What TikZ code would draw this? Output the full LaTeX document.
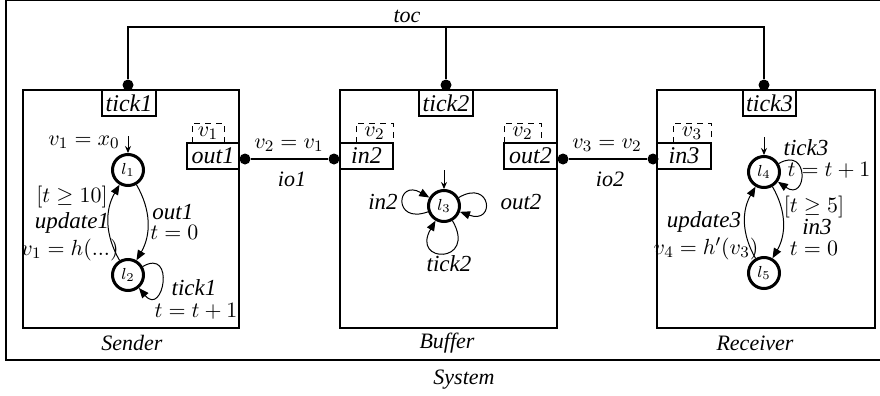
\documentclass[tikz,border=0pt]{standalone}
\usepackage{fontspec}
\newfontfamily\tms{Liberation Serif}
\usetikzlibrary{arrows.meta}
\begin{document}
\begin{tikzpicture}[x=0.5pt,y=0.5pt,
  comp/.style={draw,line width=0.6pt,rectangle,inner sep=0pt,minimum height=119pt},
  port/.style={draw,line width=0.6pt,rectangle,minimum height=13pt,inner sep=0pt,font=\fontsize{12}{14}\tms\itshape},
  loc/.style={circle,draw,line width=1.5pt,minimum size=15.5pt,inner sep=0pt,font=\fontsize{8}{9}\selectfont},
  trans/.style={line width=0.5pt,-{Triangle[length=5pt,width=4pt]}},
  init/.style={line width=0.5pt,-{Stealth[length=3.5pt,width=3pt]}},
  dot/.style={circle,fill,inner sep=0pt,minimum size=5.5pt},
  wire/.style={line width=1pt},
  lab/.style={font=\fontsize{11.5}{14}\tms\itshape,inner sep=0pt},
  mlab/.style={font=\fontsize{11}{13}\selectfont,inner sep=0pt},
  title/.style={font=\fontsize{11}{13}\tms\itshape,inner sep=0pt},
  dbox/.style={dash pattern=on 3pt off 2.5pt,line width=0.5pt}
]
\useasboundingbox (0,0) rectangle (880,-396);
% outer system box
\draw[line width=0.6pt] (880,-0.7) -- (6,-0.7) -- (6,-360) -- (880,-360);
\node[title] (sys) at (464,-380) {System};

% components
\node[comp,minimum width=108pt] (sender) at (131,-209) {};
\node[comp,minimum width=108.5pt] (buffer) at (448.5,-209) {};
\node[comp,minimum width=109pt] (receiver) at (766,-209) {};
\node[title] (tsender) at (132,-343) {Sender};
\node[title] (tbuffer) at (447,-343) {Buffer};
\node[title] (treceiver) at (755,-343) {Receiver};

% tick ports
\node[port,minimum width=27pt] (tick1) at (129,-103) {tick1};
\node[port,minimum width=27pt] (tick2) at (446,-103) {tick2};
\node[port,minimum width=26.5pt] (tick3) at (769.5,-103) {tick3};

% toc bus
\node[dot] (d1) at (128,-85) {};
\node[dot] (d2) at (446,-85) {};
\node[dot] (d3) at (764,-85) {};
\coordinate (b1) at (128,-27);
\coordinate (b2) at (446,-27);
\coordinate (b3) at (764,-27);
\draw[wire] (d1) -- (b1) -- (b3) -- (d3);
\draw[wire] (b2) -- (d2);
\node[title] (toc) at (407,-16) {toc};

% io ports
\node[port,minimum width=26pt] (out1) at (213,-156) {out1};
\node[port,minimum width=26.5pt] (in2) at (366.5,-156) {in2};
\node[port,minimum width=26.5pt] (out2) at (530.5,-156) {out2};
\node[port,minimum width=27pt] (in3) at (684,-156) {in3};

% dashed variable boxes
\draw[dbox] (192,-143) -- (192,-123) -- (224,-123) -- (224,-143);
\node[mlab] (dv1) at (208,-133) {$v_1$};
\draw[dbox] (356,-143) -- (356,-123) -- (393,-123) -- (393,-143);
\node[mlab] (dv2) at (374.5,-133) {$v_2$};
\draw[dbox] (504,-143) -- (504,-123) -- (541,-123) -- (541,-143);
\node[mlab] (dv2b) at (522.5,-133) {$v_2$};
\draw[dbox] (673,-143) -- (673,-123) -- (711,-123) -- (711,-143);
\node[mlab] (dv3) at (692,-133) {$v_3$};

% io connections
\node[dot] (po1) at (245,-159) {};
\node[dot] (pi2) at (334,-159) {};
\node[dot] (po2) at (563,-159) {};
\node[dot] (pi3) at (653,-159) {};
\draw[wire] (po1) -- (pi2);
\draw[wire] (po2) -- (pi3);
\node[mlab] (e1) at (289,-145) {$v_2 = v_1$};
\node[title] (io1) at (292,-179) {io1};
\node[mlab] (e2) at (607,-145) {$v_3 = v_2$};
\node[title] (io2) at (610,-179) {io2};

% Sender automaton
\node[loc] (l1) at (128,-170) {$l_1$};
\node[loc] (l2) at (128,-275) {$l_2$};
\coordinate (i1) at (128,-136);
\draw[init] (i1) -- (l1);
\draw[trans] (l1) to[bend left=30] (l2);
\draw[trans] (l2) to[bend left=30] (l1);
\draw[trans] (l2.30) .. controls +(30:38) and +(-50:38) .. (l2.-50);
\node[mlab] (s1) at (84,-142) {$v_1 = x_0$};
\node[mlab] (s2) at (72,-197) {$[t \geq 10]$};
\node[lab] (s3) at (72,-223) {update1};
\node[mlab] (s4) at (70,-250) {$v_1 = h(...)$};
\node[lab,anchor=west] (s5) at (152,-212) {out1};
\node[mlab,anchor=west] (s6) at (150,-232) {$t = 0$};
\node[lab] (s7) at (194,-288) {tick1};
\node[mlab] (s8) at (196,-311) {$t = t + 1$};

% Buffer automaton
\node[loc] (l3) at (444,-206) {$l_3$};
\coordinate (i3) at (444,-170);
\draw[init] (i3) -- (l3);
\draw[trans] (l3.200) .. controls +(200:38) and +(150:38) .. (l3.150);
\draw[trans] (l3.30) .. controls +(30:38) and +(-20:38) .. (l3.-20);
\draw[trans] (l3.-60) .. controls +(-60:50) and +(-120:50) .. (l3.-120);
\node[lab] (bl1) at (383,-202) {in2};
\node[lab] (bl2) at (521,-202) {out2};
\node[lab] (bl3) at (449,-264) {tick2};

% Receiver automaton
\node[loc] (l4) at (764,-172) {$l_4$};
\node[loc] (l5) at (764,-273) {$l_5$};
\coordinate (i4) at (764,-137);
\draw[init] (i4) -- (l4);
\draw[trans] (l4) to[bend left=30] (l5);
\draw[trans] (l5) to[bend left=30] (l4);
\draw[trans] (l4.30) .. controls +(30:36) and +(-35:36) .. (l4.-35);
\node[lab] (r1) at (806,-148) {tick3};
\node[mlab] (r2) at (829,-170) {$t = t + 1$};
\node[mlab] (r3) at (814,-207) {$[t \geq 5]$};
\node[lab] (r4) at (817,-227) {in3};
\node[mlab] (r5) at (814,-248) {$t = 0$};
\node[lab] (r6) at (704,-222) {update3};
\node[mlab] (r7) at (706,-249) {$v_4 = h'(v_3)$};
\end{tikzpicture}
\end{document}
